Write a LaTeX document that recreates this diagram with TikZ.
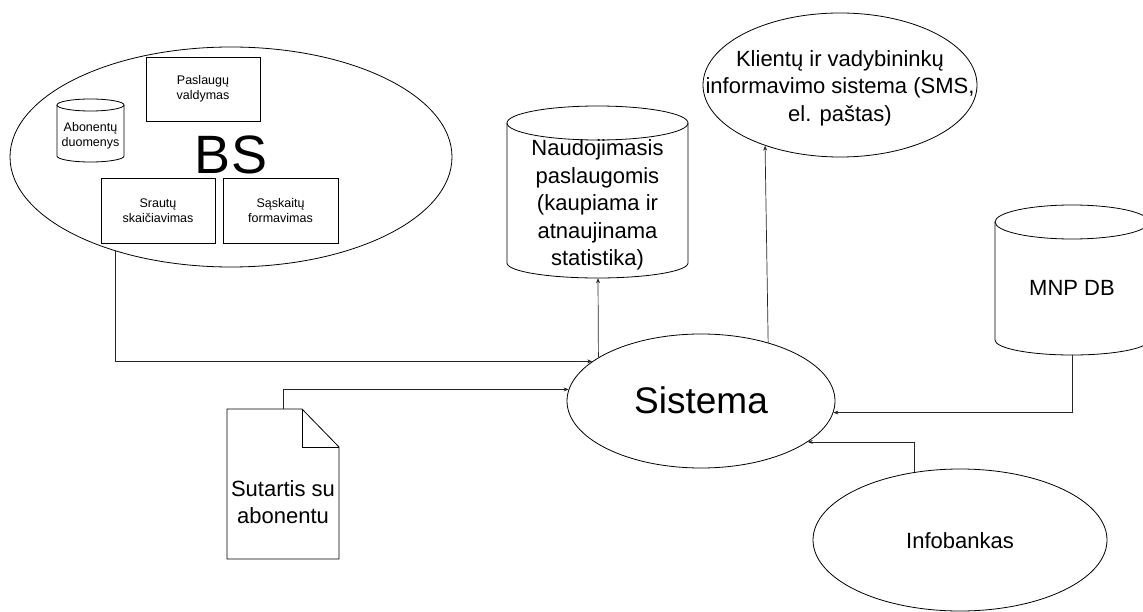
\documentclass[tikz,border=0pt]{standalone}
\usepackage{fontspec}
\setmainfont{Liberation Sans}
\usetikzlibrary{arrows.meta,shapes.geometric}
\begin{document}
\begin{tikzpicture}[x=1pt,y=-1pt,
  outline/.style={draw=black,line width=0.8pt},
  oval/.style={ellipse,outline,inner sep=0pt},
  box/.style={rectangle,outline,inner sep=0pt,align=center,font=\fontsize{12.5}{14.5}\selectfont},
  hull/.style={rectangle,draw=none,inner sep=0pt},
  txt/.style={align=center,inner sep=0pt,font=\fontsize{22}{27.5}\selectfont},
  small/.style={align=center,inner sep=0pt,font=\fontsize{12.5}{14.5}\selectfont},
  link/.style={draw=black!85,line width=0.7pt,-{Stealth[length=5pt,width=4pt]}}
]
\useasboundingbox (0,0) rectangle (1143,612);

% BS subsystem
\node[oval,minimum width=442pt,minimum height=220pt] (bs) at (231,157) {};
\node[inner sep=0pt,font=\fontsize{54}{60}\selectfont] (bslabel) at (231,155) {BS};
\node[box,minimum width=114pt,minimum height=64pt] (paslaugos) at (203,89) {Paslaugų\\valdymas};
\node[box,minimum width=114pt,minimum height=65pt] (srautai) at (158,210.5) {Srautų\\skaičiavimas};
\node[box,minimum width=115pt,minimum height=65pt] (saskaitos) at (280.5,210.5) {Sąskaitų\\formavimas};
% subscriber data store
\draw[outline] (57,105) -- (57,156) arc[start angle=180,end angle=0,x radius=33.5,y radius=6] -- (124,105);
\draw[outline] (90.5,105) ellipse[x radius=33.5,y radius=6];
\node[small] (abonentai) at (90.5,136) {Abonentų\\duomenys};

% central system
\node[oval,minimum width=268pt,minimum height=134pt] (sis) at (701,401) {};
\node[inner sep=0pt,font=\fontsize{37}{42}\selectfont] (sislabel) at (701,400) {Sistema};

% usage statistics store
\draw[outline] (507,123) -- (507,263) arc[start angle=180,end angle=0,x radius=90.5,y radius=15] -- (688,123);
\draw[outline] (597.5,123) ellipse[x radius=90.5,y radius=17];
\node[hull,minimum width=181pt,minimum height=172pt] (naud) at (598,192) {};
\node[txt] (naudlabel) at (597.5,205) {Naudojimasis\\paslaugomis\\(kaupiama ir\\atnaujinama\\statistika)};

% notification system
\node[oval,minimum width=274pt,minimum height=144pt] (kl) at (840,85) {};
\node[txt] (kllabel) at (840,88) {Klientų ir vadybininkų\\informavimo sistema (SMS,\\el. paštas)};

% MNP database
\draw[outline] (995,222) -- (995,340) arc[start angle=180,end angle=0,x radius=77,y radius=15] -- (1149,222);
\draw[outline] (1072,222) ellipse[x radius=77,y radius=17];
\node[hull,minimum width=154pt,minimum height=150pt] (mnp) at (1072,280) {};
\node[txt] (mnplabel) at (1072,288) {MNP DB};

% Infobankas
\node[oval,minimum width=294pt,minimum height=142pt] (info) at (960,540) {};
\node[txt] (infolabel) at (960,541) {Infobankas};

% contract document
\draw[outline] (227,409) -- (302,409) -- (339,447) -- (339,559) -- (227,559) -- cycle;
\draw[outline] (302,409) -- (302,447) -- (339,447);
\node[hull,minimum width=112pt,minimum height=150pt] (doc) at (283,484) {};
\node[txt] (doclabel) at (283,502) {Sutartis su\\abonentu};

% connectors
\draw[link] (bs.219.5) |- (sis.160.3);
\draw[link] (sis.157.3) -- (naud.south);
\draw[link] (sis.41.5) -- (kl.219.9);
\draw[link] (mnp.south) |- (sis.355.24);
\draw[link] (info.124.3) |- (sis.339.6);
\draw[link] (doc.north) |- (sis.175.7);
\end{tikzpicture}
\end{document}
